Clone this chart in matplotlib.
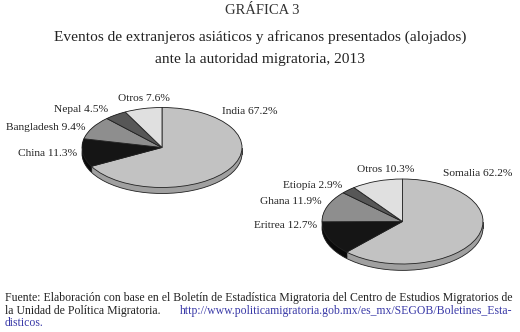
import matplotlib.pyplot as plt
from matplotlib.patches import Circle

# data
asia_labels = ["India", "China", "Bangladesh", "Nepal", "Otros"]
asia_values = [67.2, 11.3, 9.4, 4.5, 7.6]
africa_labels = ["Somalia", "Eritrea", "Ghana", "Etiopía", "Otros"]
africa_values = [62.2, 12.7, 11.9, 2.9, 10.3]

top_colors = ["#c2c2c2", "#151515", "#8e8e8e", "#575757", "#e0e0e0"]
side_colors = ["#a0a0a0", "#0a0a0a", "#6e6e6e", "#3e3e3e", "#b8b8b8"]

W, H = 520, 332
plt.rcParams['font.family'] = ['Liberation Serif', 'DejaVu Serif']
fig = plt.figure(figsize=(W / 100, H / 100), dpi=100)


def px(x, y):
    return x / W, 1 - y / H


def pie3d(cx, cy, rx, ry, values, depth=0.15):
    # axes sized so that radius 1 maps to rx by ry pixels
    ax = fig.add_axes([(cx - 1.25 * rx) / W, 1 - (cy + 1.25 * ry) / H,
                       2.5 * rx / W, 2.5 * ry / H])
    n = 8
    for i in range(n + 1):
        off = depth * (1 - i / n)
        ax.pie(values, colors=side_colors, startangle=90, counterclock=False,
               center=(0, -off), radius=1, wedgeprops=dict(linewidth=0))
    ax.add_patch(Circle((0, -depth), 1, fill=False, ec="#222222", lw=0.6))
    ax.plot([-1, -1], [0, -depth], color="#222222", lw=0.6)
    ax.plot([1, 1], [0, -depth], color="#222222", lw=0.6)
    ax.pie(values, colors=top_colors, startangle=90, counterclock=False,
           radius=1, wedgeprops=dict(linewidth=0.6, edgecolor="#222222"))
    ax.set_aspect("auto")
    ax.set_xlim(-1.25, 1.25)
    ax.set_ylim(-1.25, 1.25)
    ax.axis("off")
    return ax


pie3d(162, 147.5, 80, 40, asia_values)
pie3d(402.5, 221.5, 80.5, 42.5, africa_values)

lab_fs = 8.2
# left pie labels: (x, y, ha)
asia_pos = [(222, 112, "left"), (77, 153, "right"), (86, 127, "right"),
            (108, 110, "right"), (144, 99, "center")]
for lab, v, (x, y, ha) in zip(asia_labels, asia_values, asia_pos):
    fig.text(*px(x, y), f"{lab} {v:.1f}%", ha=ha, va="center",
             fontsize=lab_fs, color="#222222")

africa_pos = [(443, 174, "left"), (317, 226, "right"), (322, 202, "right"),
              (342, 185, "right"), (386, 170, "center")]
for lab, v, (x, y, ha) in zip(africa_labels, africa_values, africa_pos):
    fig.text(*px(x, y), f"{lab} {v:.1f}%", ha=ha, va="center",
             fontsize=lab_fs, color="#222222")

# titles
fig.text(*px(262, 11), "GRÁFICA 3", ha="center", va="center",
         fontsize=10.5, color="#333333")
fig.text(*px(260, 37), "Eventos de extranjeros asiáticos y africanos presentados (alojados)",
         ha="center", va="center", fontsize=11.1, color="#222222")
fig.text(*px(260, 59), "ante la autoridad migratoria, 2013",
         ha="center", va="center", fontsize=11.1, color="#222222")

# source note
fs = 8.5
blue = "#3a3aa8"
fig.text(*px(5, 298), "Fuente: Elaboración con base en el Boletín de Estadística Migratoria "
         "del Centro de Estudios Migratorios de", ha="left", va="center", fontsize=fs,
         color="#222222")
fig.text(*px(5, 311), "la Unidad de Política Migratoria.", ha="left", va="center",
         fontsize=fs, color="#222222")
fig.text(*px(180, 311), "http://www.politicamigratoria.gob.mx/es_mx/SEGOB/Boletines_Esta-",
         ha="left", va="center", fontsize=fs, color=blue)
fig.text(*px(5, 323), "disticos.", ha="left", va="center", fontsize=fs, color=blue)

fig.savefig("out.png", dpi=100, facecolor="white")
